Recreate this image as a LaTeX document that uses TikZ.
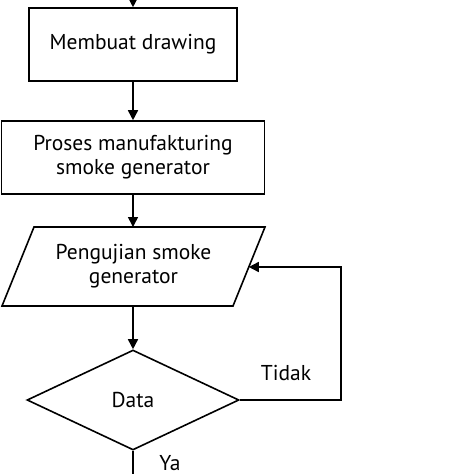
\documentclass[tikz,border=0pt]{standalone}
\usepackage{fontspec}
\setmainfont{PT Sans}
\usetikzlibrary{shapes.geometric,arrows.meta}
\begin{document}
\begin{tikzpicture}[x=1pt,y=-1pt,
  every node/.style={font=\fontsize{21.5}{24}\selectfont, align=center},
  proc/.style={draw, line width=1.6pt, rectangle, inner sep=0pt},
  dec/.style={draw, line width=1.6pt, diamond, inner sep=0pt, minimum width=212pt, minimum height=100pt},
  conn/.style={line width=1.6pt, -{Triangle[length=10pt,width=10pt]}},
  lbl/.style={inner sep=0pt}]
\useasboundingbox (0,0) rectangle (474,474);
\coordinate (start) at (133,0);
\node[proc, minimum width=208pt, minimum height=73pt] (b1) at (133,44.5) {Membuat drawing};
\node[proc, minimum width=263pt, minimum height=73pt] (b2) at (133,157.5) {Proses manufakturing\\smoke generator};
% parallelogram
\coordinate (pa) at (34,227);
\coordinate (pb) at (265,227);
\coordinate (pc) at (233,306);
\coordinate (pd) at (2,306);
\draw[line width=1.6pt] (pa) -- (pb) -- (pc) -- (pd) -- cycle;
\node[lbl] (p) at (133.5,266.5) {Pengujian smoke\\generator};
\coordinate (ptop) at (133,227);
\coordinate (pbot) at (133,306);
\coordinate (pin) at (248.8,267);
\node[dec] (d) at (133,400) {Data};
\coordinate (corner) at (341,400);
\coordinate (end) at (133,474);
\node[lbl] (tidak) at (286,373) {Tidak};
\node[lbl] (ya) at (170,463) {Ya};
\draw[conn] (start) -- (b1.north);
\draw[conn] (b1.south) -- (b2.north);
\draw[conn] (b2.south) -- (ptop);
\draw[conn] (pbot) -- (d.north);
\draw[conn] (d.east) -- (corner) |- (pin);
\draw[line width=1.6pt] (d.south) -- (end);
\end{tikzpicture}
\end{document}
